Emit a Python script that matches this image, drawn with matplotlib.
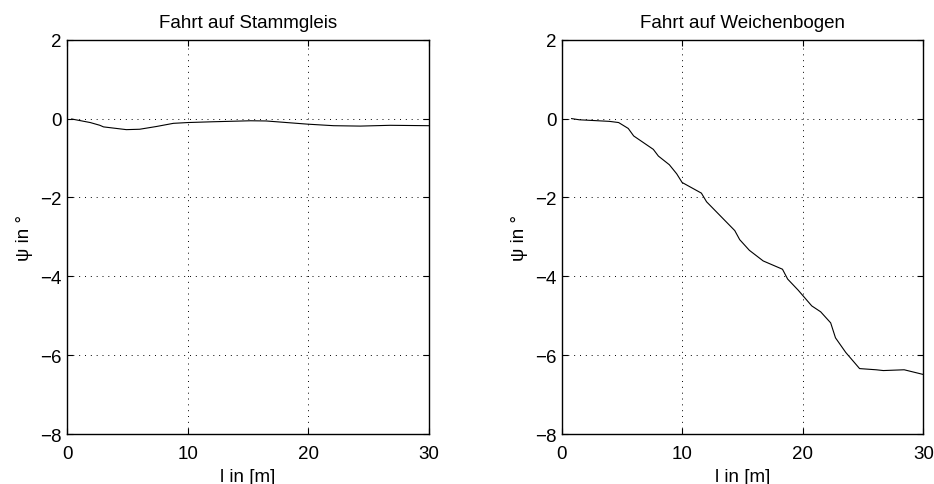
import numpy as np
import matplotlib
matplotlib.use("Agg")
import matplotlib.pyplot as plt

plt.rcParams['font.family'] = ['Liberation Sans', 'DejaVu Sans']

# Fahrt auf Stammgleis (straight track)
l_stamm = [0.36, 1.9, 2.7, 3.0, 4.9, 6.0, 7.4, 8.8, 10.0, 12.1, 15.2, 16.5, 18.2,
           19.9, 22.1, 24.3, 26.8, 30.0]
psi_stamm = [-0.01, -0.10, -0.17, -0.21, -0.28, -0.27, -0.20, -0.12, -0.10, -0.08, -0.055,
             -0.06, -0.10, -0.14, -0.18, -0.19, -0.17, -0.18]

# Fahrt auf Weichenbogen (diverging track)
l_weiche = [0.8, 1.44, 3.93, 4.7, 5.5, 5.95, 7.58, 8.0, 8.91, 9.52, 9.97, 11.57, 12.0,
            14.34, 14.75, 15.55, 16.7, 18.3, 18.73, 19.6, 20.73, 21.47, 22.3, 22.7,
            23.55, 24.7, 26.07, 26.67, 28.4, 30.0]
psi_weiche = [0.0, -0.03, -0.07, -0.10, -0.25, -0.44, -0.78, -0.95, -1.17, -1.40, -1.62,
              -1.89, -2.11, -2.84, -3.07, -3.34, -3.61, -3.82, -4.07, -4.35, -4.75, -4.90,
              -5.18, -5.56, -5.93, -6.34, -6.37, -6.39, -6.37, -6.49]

titles = ["Fahrt auf Stammgleis", "Fahrt auf Weichenbogen"]
x_ticks = [0, 10, 20, 30]
y_ticks = [-8, -6, -4, -2, 0, 2]

fig = plt.figure(figsize=(9.34, 4.85), dpi=100)
ax1 = fig.add_axes([0.0721, 0.103, 0.387, 0.813])
ax2 = fig.add_axes([0.6017, 0.103, 0.387, 0.813])

for ax, l, psi, title in zip([ax1, ax2], [l_stamm, l_weiche], [psi_stamm, psi_weiche], titles):
    ax.plot(l, psi, color='black', linewidth=0.8)
    ax.set_xlim(0, 30)
    ax.set_ylim(-8, 2)
    ax.set_xticks(x_ticks)
    ax.set_yticks(y_ticks)
    ax.set_yticklabels([str(t).replace('-', '\u2212') for t in y_ticks])
    ax.grid(True, color='black', linestyle=(0, (1, 5)), linewidth=0.7)
    ax.tick_params(direction='in', top=True, right=True, length=4, width=0.8,
                   labelsize=13.5)
    ax.tick_params(axis='x', pad=8)
    ax.tick_params(axis='y', pad=4)
    for s in ax.spines.values():
        s.set_linewidth(1.0)
    ax.set_title(title, fontsize=13.5, pad=9)
    ax.set_xlabel("l in [m]", fontsize=13.5, labelpad=4)
    ax.set_ylabel("\u03c8 in \u00b0", fontsize=13.5, labelpad=5)

fig.savefig("out.png", dpi=100)
